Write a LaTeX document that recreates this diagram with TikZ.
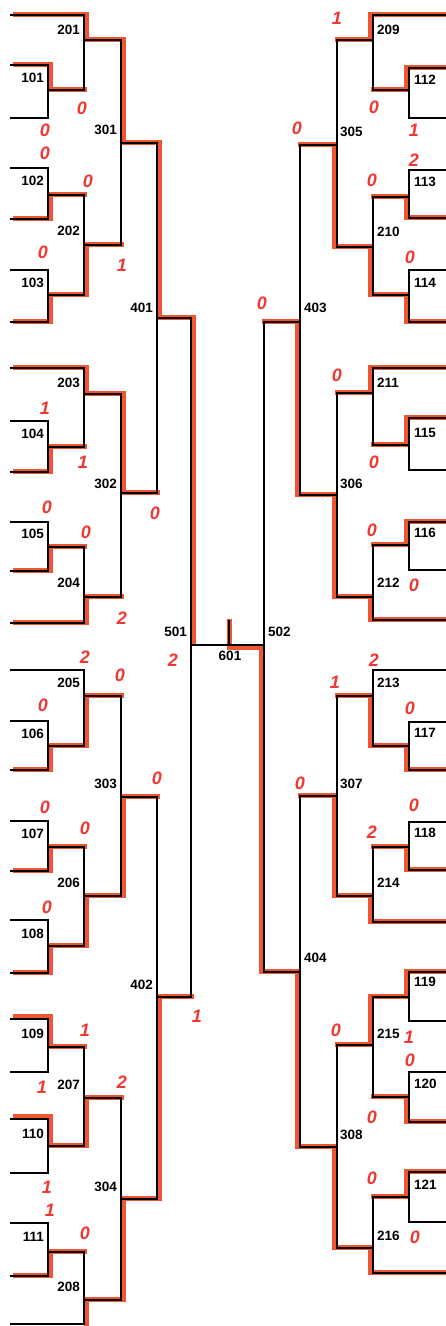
\documentclass[tikz,border=0pt]{standalone}
\usepackage{fontspec}
\setmainfont{Liberation Sans}
\definecolor{hilite}{RGB}{240,85,50}
\definecolor{pen}{RGB}{240,55,50}

\begin{document}
\begin{tikzpicture}[x=1pt,y=-1pt,
	bk/.style={line width=1.5pt, color=black},
	winpath/.style={line width=5pt, color=hilite},
	lbl/.style={font=\fontsize{13.5}{14}\selectfont\bfseries, inner sep=0pt},
	score/.style={font=\fontsize{18}{18}\selectfont\bfseries\itshape, text=pen, inner sep=0pt}]

	\useasboundingbox[fill=white] (0,0) rectangle (445,1326);

	% highlighted paths, left half
	\begin{scope}[xshift=2.5pt,yshift=0.8pt]
	\draw[winpath] (10,15) -- (84,15) -- (84,40) -- (121,40) -- (121,143) -- (157,143) -- (157,318) -- (191,318) -- (191,645);
	\draw[winpath] (10,65) -- (48,65) -- (48,90) -- (84,90);
	\draw[winpath] (10,219) -- (48,219) -- (48,195) -- (84,195);
	\draw[winpath] (10,322) -- (48,322) -- (48,295) -- (84,295) -- (84,245) -- (121,245);
	\draw[winpath] (10,368) -- (84,368) -- (84,394) -- (121,394) -- (121,493) -- (157,493);
	\draw[winpath] (10,472) -- (48,472) -- (48,447) -- (84,447);
	\draw[winpath] (10,571) -- (48,571) -- (48,547) -- (84,547);
	\draw[winpath] (10,623) -- (84,623) -- (84,597) -- (121,597);
	\draw[winpath] (10,770) -- (48,770) -- (48,746) -- (84,746) -- (84,696) -- (121,696);
	\draw[winpath] (10,871) -- (48,871) -- (48,847) -- (84,847);
	\draw[winpath] (10,973) -- (48,973) -- (48,946) -- (84,946) -- (84,896) -- (121,896) -- (121,797) -- (157,797);
	\draw[winpath] (10,1017) -- (48,1017) -- (48,1047) -- (84,1047);
	\draw[winpath] (10,1117) -- (48,1117) -- (48,1146) -- (84,1146) -- (84,1098) -- (121,1098);
	\draw[winpath] (10,1276) -- (48,1276) -- (48,1252) -- (84,1252);
	\draw[winpath] (84,1330) -- (84,1300) -- (121,1300) -- (121,1199) -- (157,1199) -- (157,997) -- (191,997);
	\end{scope}

	% highlighted paths, right half
	\begin{scope}[xshift=-2.5pt,yshift=0.8pt]
	\draw[winpath] (450,15) -- (373,15) -- (373,40) -- (337,40);
	\draw[winpath] (450,68) -- (409,68) -- (409,90) -- (373,90);
	\draw[winpath] (450,218) -- (409,218) -- (409,197) -- (373,197);
	\draw[winpath] (450,322) -- (409,322) -- (409,295) -- (373,295) -- (373,247) -- (337,247) -- (337,145) -- (300,145);
	\draw[winpath] (450,368) -- (373,368) -- (373,393) -- (337,393);
	\draw[winpath] (450,418) -- (409,418) -- (409,445) -- (373,445);
	\draw[winpath] (450,522) -- (409,522) -- (409,545) -- (373,545);
	\draw[winpath] (450,620) -- (373,620) -- (373,597) -- (337,597) -- (337,495) -- (300,495) -- (300,322) -- (264,322);
	\draw[winpath] (450,770) -- (409,770) -- (409,746) -- (373,746) -- (373,696) -- (337,696);
	\draw[winpath] (450,870) -- (409,870) -- (409,847) -- (373,847);
	\draw[winpath] (450,922) -- (373,922) -- (373,896) -- (337,896) -- (337,796) -- (300,796);
	\draw[winpath] (450,972) -- (409,972) -- (409,997) -- (373,997) -- (373,1045) -- (337,1045);
	\draw[winpath] (450,1122) -- (409,1122) -- (409,1097) -- (373,1097);
	\draw[winpath] (450,1172) -- (409,1172) -- (409,1197) -- (373,1197);
	\draw[winpath] (450,1273) -- (373,1273) -- (373,1248) -- (337,1248) -- (337,1147) -- (300,1147) -- (300,972) -- (264,972) -- (264,648) -- (231.5,648) -- (231.5,620);
	\end{scope}

	% bracket lines, left half
	\foreach \a/\b in {65/118,168/219,270/322,421/472,522/571,721/770,821/871,920/973,1019/1072,1119/1173,1223/1276}
		\draw[bk] (10,\a) -- (48,\a) -- (48,\b) -- (10,\b);

	\foreach \xa/\a/\b/\xb in {10/15/90/48,48/195/295/48,10/368/447/48,48/547/623/10,10/670/746/48,48/847/946/48,48/1047/1146/48,48/1252/1324/10}
		\draw[bk] (\xa,\a) -- (84,\a) -- (84,\b) -- (\xb,\b);

	\foreach \a/\b in {40/245,394/597,696/896,1098/1300}
		\draw[bk] (84,\a) -- (121,\a) -- (121,\b) -- (84,\b);

	\foreach \a/\b in {143/493,797/1199}
		\draw[bk] (121,\a) -- (157,\a) -- (157,\b) -- (121,\b);

	\draw[bk] (157,318) -- (191,318) -- (191,997) -- (157,997);

	% final
	\draw[bk] (191,645) -- (264,645);
	\draw[bk] (229,645) -- (229,620);

	% bracket lines, right half
	\draw[bk] (300,322) -- (264,322) -- (264,972) -- (300,972);

	\foreach \a/\b in {145/495,796/1147}
		\draw[bk] (337,\a) -- (300,\a) -- (300,\b) -- (337,\b);

	\foreach \a/\b in {40/247,393/597,696/896,1045/1248}
		\draw[bk] (373,\a) -- (337,\a) -- (337,\b) -- (373,\b);

	\foreach \xa/\a/\b/\xb in {450/15/90/409,409/197/295/409,450/368/445/409,409/545/620/450,450/670/746/409,409/847/922/450,409/997/1097/409,409/1197/1273/450}
		\draw[bk] (\xa,\a) -- (373,\a) -- (373,\b) -- (\xb,\b);

	\foreach \a/\b in {68/118,170/218,270/322,418/470,522/570,722/770,822/870,972/1021,1072/1122,1172/1222}
		\draw[bk] (450,\a) -- (409,\a) -- (409,\b) -- (450,\b);

	% match numbers
	\foreach \n/\y in {101/78,102/181,103/283,104/434,105/534,106/734,107/834,108/934,109/1034,110/1134,111/1237}
		\node[lbl,anchor=east] (m\n) at (44,\y) {\n};
	\foreach \n/\y in {201/30,202/231,203/383,204/583,205/683,206/883,207/1085,208/1287}
		\node[lbl,anchor=east] (m\n) at (80,\y) {\n};
	\foreach \n/\y in {301/130,302/484,303/784,304/1187}
		\node[lbl,anchor=east] (m\n) at (117,\y) {\n};
	\foreach \n/\y in {401/308,402/985}
		\node[lbl,anchor=east] (m\n) at (153,\y) {\n};
	\node[lbl,anchor=east] (m501) at (187,632) {501};

	\node[lbl] (m601) at (230,656) {601};

	\node[lbl,anchor=west] (m502) at (268,632) {502};
	\foreach \n/\y in {403/308,404/958}
		\node[lbl,anchor=west] (m\n) at (304,\y) {\n};
	\foreach \n/\y in {305/132,306/484,307/784,308/1135}
		\node[lbl,anchor=west] (m\n) at (340,\y) {\n};
	\foreach \n/\y in {209/30,210/232,211/383,212/583,213/683,214/883,215/1034,216/1236}
		\node[lbl,anchor=west] (m\n) at (377,\y) {\n};
	\foreach \n/\y in {112/80,113/182,114/283,115/433,116/533,117/733,118/833,119/982,120/1084,121/1185}
		\node[lbl,anchor=west] (m\n) at (414,\y) {\n};

	% handwritten scores
	\foreach \x/\y/\s [count=\i] in {82/108/0,45/130/0,45/153/0,88/181/0,43/252/0,122/265/1,
		45/408/1,83/462/1,47/507/0,86/532/0,155/513/0,122/618/2,
		85/657/2,173/660/2,120/675/0,43/705/0,157/778/0,45/807/0,85/828/0,47/907/0,
		197/1016/1,85/1030/1,42/1087/1,122/1082/2,47/1187/1,50/1210/1,85/1233/0}
		\node[score] (sl\i) at (\x,\y) {\s};

	\foreach \x/\y/\s [count=\i] in {337/18/1,374/107/0,414/130/1,297/128/0,414/160/2,372/180/0,410/257/0,262/303/0,
		337/375/0,374/462/0,372/530/0,414/585/0,
		374/660/2,335/682/1,410/708/0,300/783/0,414/805/0,372/832/2,
		336/1030/0,409/1037/1,410/1060/0,372/1117/0,372/1178/0,415/1237/0}
		\node[score] (sr\i) at (\x,\y) {\s};

\end{tikzpicture}
\end{document}
